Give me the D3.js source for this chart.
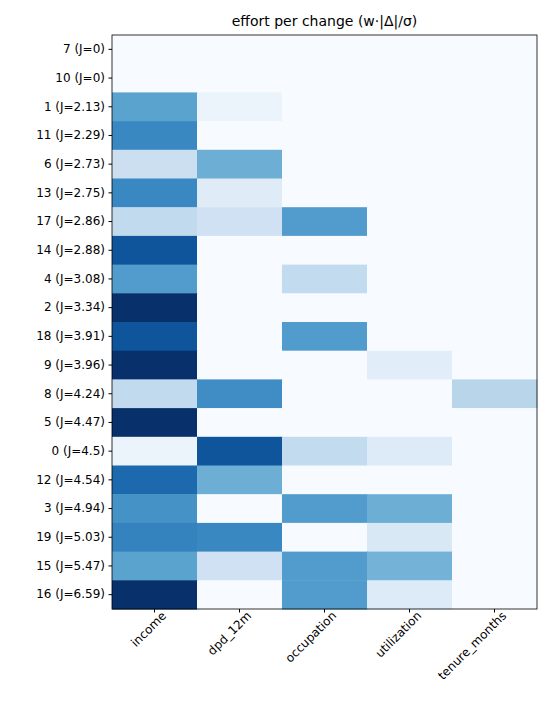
<!DOCTYPE html>
<html>
<head>
<meta charset="utf-8">
<script src="https://cdn.jsdelivr.net/npm/d3@7"></script>
<style>
  body { margin: 0; background: #fff; font-family: "DejaVu Sans", sans-serif; }
</style>
</head>
<body>
<svg id="chart" width="547" height="724"></svg>
<script>
// rows (top to bottom) and columns
const rows = ["7 (J=0)", "10 (J=0)", "1 (J=2.13)", "11 (J=2.29)", "6 (J=2.73)", "13 (J=2.75)",
  "17 (J=2.86)", "14 (J=2.88)", "4 (J=3.08)", "2 (J=3.34)", "18 (J=3.91)", "9 (J=3.96)",
  "8 (J=4.24)", "5 (J=4.47)", "0 (J=4.5)", "12 (J=4.54)", "3 (J=4.94)", "19 (J=5.03)",
  "15 (J=5.47)", "16 (J=6.59)"];
const cols = ["income", "dpd_12m", "occupation", "utilization", "tenure_months"];

// effort per change, scaled 0..1
const income     = [0, 0, 0.55, 0.66, 0.22, 0.66, 0.26, 0.86, 0.58, 1.0, 0.86, 1.0, 0.26, 1.0, 0.06, 0.78, 0.62, 0.68, 0.55, 1.0];
const dpd12m     = [0, 0, 0.06, 0, 0.50, 0.12, 0.20, 0, 0, 0, 0, 0, 0.64, 0, 0.86, 0.50, 0, 0.66, 0.20, 0];
const occupation = [0, 0, 0, 0, 0, 0, 0.58, 0, 0.25, 0, 0.58, 0, 0, 0, 0.25, 0, 0.58, 0, 0.58, 0.58];
const utilization= [0, 0, 0, 0, 0, 0, 0, 0, 0, 0, 0, 0.11, 0, 0, 0.13, 0, 0.50, 0.15, 0.48, 0.13];
const tenure     = [0, 0, 0, 0, 0, 0, 0, 0, 0, 0, 0, 0, 0.29, 0, 0, 0, 0, 0, 0, 0];

const series = [income, dpd12m, occupation, utilization, tenure];
const cells = [];
rows.forEach((r, i) => cols.forEach((c, j) => cells.push({ r, c, v: series[j][i] })));

const margin = { left: 112, top: 35, right: 10, bottom: 115 };
const W = 547, H = 724;
const svg = d3.select("#chart");
const g = svg.append("g").attr("transform", `translate(${margin.left},${margin.top})`);
const iw = W - margin.left - margin.right, ih = H - margin.top - margin.bottom;

const x = d3.scaleBand().domain(cols).range([0, iw]);
const y = d3.scaleBand().domain(rows).range([0, ih]);
const color = d3.scaleSequential(d3.interpolateBlues).domain([0, 1]);

g.selectAll("rect.cell").data(cells).join("rect")
  .attr("class", "cell")
  .attr("x", d => x(d.c)).attr("y", d => y(d.r))
  .attr("width", x.bandwidth() + 0.5).attr("height", y.bandwidth() + 0.5)
  .attr("fill", d => color(d.v));

g.append("rect").attr("width", iw).attr("height", ih)
  .attr("fill", "none").attr("stroke", "#000").attr("stroke-width", 0.8);

const yAxis = g.append("g").call(d3.axisLeft(y).tickSize(3.5).tickPadding(3.5));
yAxis.select(".domain").remove();
yAxis.selectAll("text").attr("font-size", 12).attr("fill", "#000").attr("font-family", "DejaVu Sans");

const xAxis = g.append("g").attr("transform", `translate(0,${ih})`)
  .call(d3.axisBottom(x).tickSize(3.5).tickPadding(3.5));
xAxis.select(".domain").remove();
xAxis.selectAll("text")
  .attr("font-size", 12).attr("fill", "#000").attr("font-family", "DejaVu Sans")
  .attr("text-anchor", "end").attr("dy", "0.6em").attr("dx", "0.3em")
  .attr("transform", "rotate(-45)");

svg.append("text").attr("x", margin.left + iw / 2).attr("y", 26)
  .attr("text-anchor", "middle").attr("font-size", 14)
  .text("effort per change (w·|Δ|/σ)");
</script>
</body>
</html>
